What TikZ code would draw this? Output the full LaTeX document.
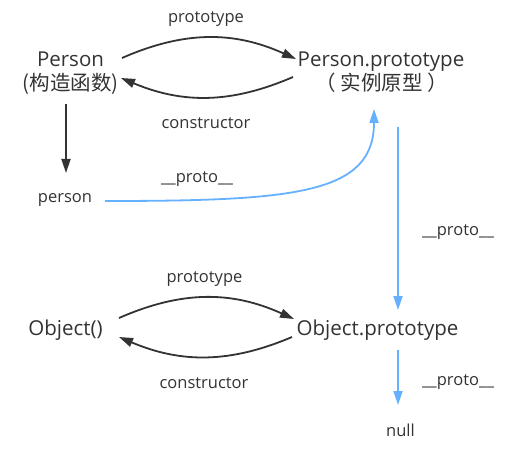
\documentclass[tikz,border=0pt]{standalone}
\usepackage{fontspec}
\setmainfont{Open Sans}
\newfontfamily\cjk{Noto Sans CJK SC}
\usetikzlibrary{arrows.meta,calc}
\definecolor{ink}{HTML}{333333}
\definecolor{protoblue}{HTML}{66B1FF}
\begin{document}
\begin{tikzpicture}[x=1pt,y=-1pt,
  big/.style={font=\fontsize{20.5}{24}\selectfont, text=ink, inner sep=0pt, anchor=base},
  small/.style={font=\fontsize{16.5}{20}\selectfont, text=ink, inner sep=0pt, anchor=base},
  blk/.style={draw=ink, line width=1.8pt, -{Triangle[length=14pt,width=9pt]}},
  blu/.style={draw=protoblue, line width=1.8pt, -{Triangle[length=14pt,width=9pt]}}]
\path[use as bounding box] (0,0) rectangle (521,462);

\node[big] (P)   at (70.5,67)  {Person};
\node[big] (Pc)  at (70.5,91)  {\cjk(构造函数)};
\node[big] (PP)  at (381,67)   {Person.prototype};
\node[big] (PPc) at (381.5,91) {\cjk（ 实例原型 ）};
\node[small] (person) at (65,202) {person};
\node[big] (OBJ) at (65.5,335) {Object()};
\node[big] (OP)  at (377.5,335) {Object.prototype};
\node[small] (null) at (400.5,436) {null};

\node[small] (lp1) at (206,23)  {prototype};
\node[small] (lc1) at (206,129) {constructor};
\node[small] (lx1) at (197,183) {\_\_proto\_\_};
\node[small] (lx2) at (458,235) {\_\_proto\_\_};
\node[small] (lp2) at (204.5,282) {prototype};
\node[small] (lc2) at (204,388) {constructor};
\node[small] (lx3) at (458,385) {\_\_proto\_\_};

\draw[blk] ($(P.base)+(51.5,-9)$) to[bend left=24] ($(PP.base)+(-85,-8)$);
\draw[blk] ($(PP.base)+(-88,10)$) to[bend left=23] ($(P.base)+(50.5,11)$);
\draw[blk] ($(Pc.base)+(-4.5,13)$) -- ($(person.base)+(1,-29)$);
\draw[blu] ($(person.base)+(40,-1)$) .. controls ($(person.base)+(230,-1)$) and ($(PPc.base)+(-7.5,103)$) .. ($(PPc.base)+(-7.5,18)$);
\draw[blu] ($(PPc.base)+(16.5,36)$) -- ($(OP.base)+(20.5,-25)$);
\draw[blk] ($(OBJ.base)+(53.5,-17)$) to[bend left=24] ($(OP.base)+(-83.5,-16)$);
\draw[blk] ($(OP.base)+(-85.5,2)$) to[bend left=23] ($(OBJ.base)+(53.5,2)$);
\draw[blu] ($(OP.base)+(20.5,15)$) -- ($(null.base)+(-2.5,-31)$);
\end{tikzpicture}
\end{document}
